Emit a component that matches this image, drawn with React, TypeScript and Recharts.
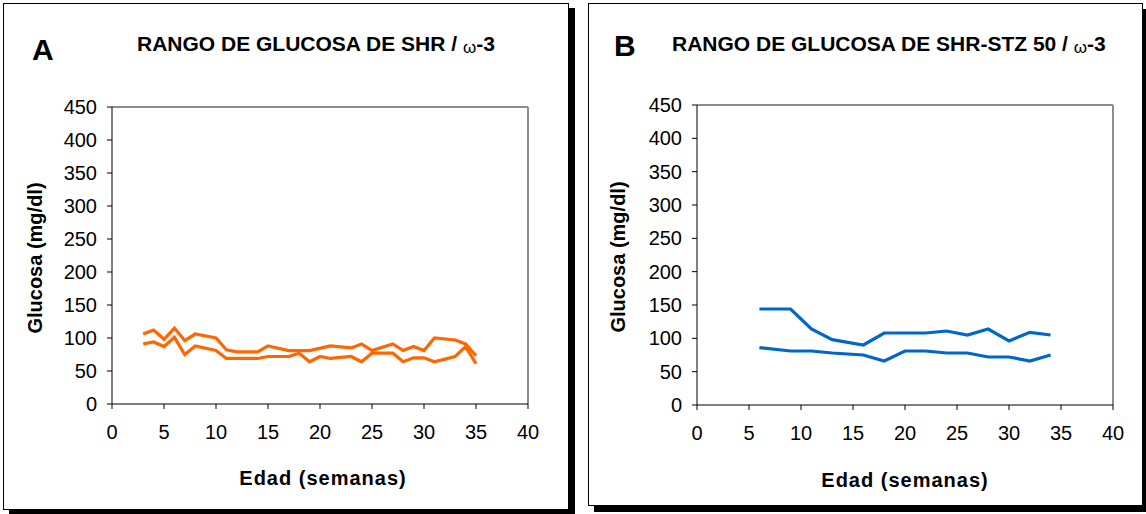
import { Line, LineChart, ReferenceLine, XAxis, YAxis } from "recharts";

const FONT = '"Liberation Sans", Arial, sans-serif';

// Panel A: SHR / omega-3, weekly glucose range (upper and lower bound)
const weeksA = [3, 4, 5, 6, 7, 8, 10, 11, 12, 14, 15, 17, 18, 19, 20, 21, 23, 24, 25, 27, 28, 29, 30, 31, 33, 34, 35];
const upperA = [106, 112, 98, 115, 96, 106, 100, 82, 79, 79, 88, 81, 81, 81, null, 88, 85, 91, 81, 91, 81, 87, 81, 100, 97, 91, 73];
const lowerA = [91, 94, 87, 101, 75, 88, 81, 69, 69, 69, 72, 72, 77, 64, 72, 69, 72, 64, 77, 77, 64, 70, 70, 64, 72, 87, 61];

// Panel B: SHR-STZ 50 / omega-3
const weeksB = [6, 9, 11, 13, 16, 18, 20, 22, 24, 26, 28, 30, 32, 34];
const upperB = [144, 144, 114, 98, 90, 108, 108, 108, 111, 105, 114, 96, 109, 105];
const lowerB = [86, 81, 81, 78, 75, 66, 81, 81, 78, 78, 72, 72, 66, 75];

const xTicks = [0, 5, 10, 15, 20, 25, 30, 35, 40];
const yTicks = [0, 50, 100, 150, 200, 250, 300, 350, 400, 450];

const dataA = weeksA.map((week, i) => ({ week, upper: upperA[i], lower: lowerA[i] }));
const dataB = weeksB.map((week, i) => ({ week, upper: upperB[i], lower: lowerB[i] }));

type Row = { week: number; upper: number | null; lower: number | null };

function GlucoseChart({
  data,
  color,
  width,
  height,
  margin,
}: {
  data: Row[];
  color: string;
  width: number;
  height: number;
  margin: { top: number; right: number; bottom: number; left: number };
}) {
  const tick = { fill: "#000", fontSize: 20, fontFamily: FONT };
  return (
    <LineChart width={width} height={height} data={data} margin={margin}>
      <XAxis
        type="number"
        dataKey="week"
        domain={[0, 40]}
        ticks={xTicks}
        interval={0}
        stroke="#000"
        tickSize={5}
        tickMargin={16}
        tick={tick}
        height={40}
      />
      <YAxis
        type="number"
        domain={[0, 450]}
        ticks={yTicks}
        interval={0}
        stroke="#000"
        tickSize={5}
        tickMargin={10}
        tick={tick}
        width={60}
      />
      <ReferenceLine y={450} stroke="#8c8c8c" strokeWidth={2} />
      <ReferenceLine x={40} stroke="#8c8c8c" strokeWidth={2} />
      <Line
        type="linear"
        dataKey="upper"
        stroke={color}
        strokeWidth={3.2}
        dot={false}
        connectNulls
        isAnimationActive={false}
      />
      <Line
        type="linear"
        dataKey="lower"
        stroke={color}
        strokeWidth={3.2}
        dot={false}
        connectNulls
        isAnimationActive={false}
      />
    </LineChart>
  );
}

const text = (extra: React.CSSProperties): React.CSSProperties => ({
  position: "absolute",
  fontFamily: FONT,
  fontWeight: "bold",
  color: "#000",
  lineHeight: 1,
  whiteSpace: "nowrap",
  ...extra,
});

function Title({ left, top, label }: { left: number; top: number; label: string }) {
  return (
    <div style={text({ left, top, fontSize: 21 })}>
      {label}
      <span style={{ fontSize: 17, position: "relative", top: 2, fontWeight: "normal" }}>ω</span>-3
    </div>
  );
}

function YTitle({ cx, cy }: { cx: number; cy: number }) {
  return (
    <div
      style={text({
        left: cx,
        top: cy,
        fontSize: 20,
        transform: "translate(-50%, -50%) rotate(-90deg)",
      })}
    >
      Glucosa (mg/dl)
    </div>
  );
}

function XTitle({ cx, cy }: { cx: number; cy: number }) {
  return (
    <div
      style={text({
        left: cx,
        top: cy,
        fontSize: 20,
        letterSpacing: 1,
        transform: "translate(-50%, -50%)",
      })}
    >
      Edad (semanas)
    </div>
  );
}

export default function App() {
  return (
    <div
      style={{
        position: "absolute",
        left: 0,
        top: 0,
        width: 1146,
        height: 514,
        background: "#fff",
        overflow: "hidden",
      }}
    >
      <div
        style={{
          position: "absolute",
          left: 3,
          top: 3,
          width: 566,
          height: 507,
          boxSizing: "border-box",
          border: "1px solid #000",
          boxShadow: "6px 5px 0 #000",
          background: "#fff",
        }}
      >
        <GlucoseChart
          data={dataA}
          color="#ff6600"
          width={564}
          height={505}
          margin={{ top: 103, right: 40, bottom: 65, left: 48 }}
        />
      </div>
      <div
        style={{
          position: "absolute",
          left: 588,
          top: 3,
          width: 555,
          height: 503,
          boxSizing: "border-box",
          border: "1px solid #000",
          boxShadow: "6px 6px 0 #000",
          background: "#fff",
        }}
      >
        <GlucoseChart
          data={dataB}
          color="#0066cc"
          width={553}
          height={501}
          margin={{ top: 101, right: 29, bottom: 60, left: 48 }}
        />
      </div>

      <div style={text({ left: 32, top: 35, fontSize: 30 })}>A</div>
      <Title left={137} top={33} label="RANGO DE GLUCOSA DE SHR / " />
      <YTitle cx={35} cy={258} />
      <XTitle cx={323} cy={478} />

      <div style={text({ left: 614, top: 31, fontSize: 30 })}>B</div>
      <Title left={672} top={33} label="RANGO DE GLUCOSA DE SHR-STZ 50 / " />
      <YTitle cx={618} cy={257} />
      <XTitle cx={905} cy={480} />
    </div>
  );
}
